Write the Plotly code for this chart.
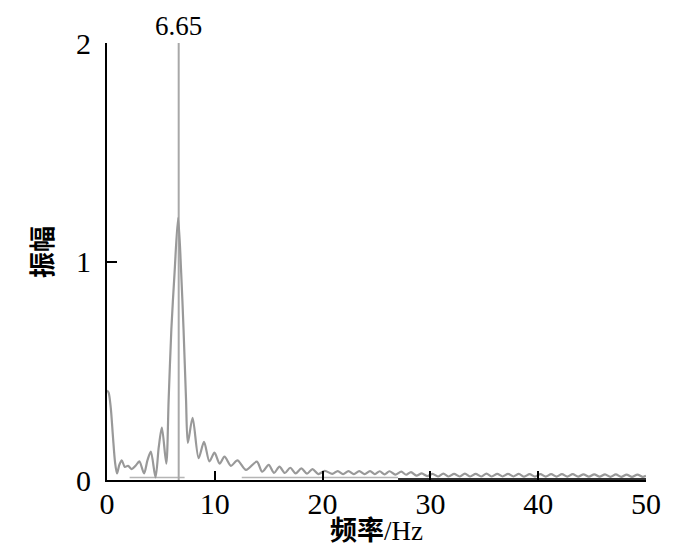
import plotly.graph_objects as go

# Spectrum curve (frequency in Hz, amplitude)
freq_hz = [0.0, 0.15, 0.35, 0.55, 0.75, 0.93, 1.15, 1.37, 1.65, 1.95, 2.3, 2.65, 3.0, 3.44, 3.75,
           4.07, 4.5, 4.8, 5.09, 5.5, 5.72, 5.97, 6.27, 6.6, 6.88, 7.1, 7.33, 7.5, 7.94, 8.5,
           9.0, 9.5, 9.97, 10.45, 10.9, 11.5, 12.1, 12.9, 13.9, 14.4, 15.0, 15.5, 16.0, 16.5,
           17.0, 17.5, 18.03, 18.55, 19.06, 19.6, 20.2, 20.9, 21.4, 21.9, 22.4, 22.9, 23.4, 23.9,
           24.4, 24.85, 25.3, 25.75, 26.2, 26.75, 27.3, 27.75, 28.2, 28.7, 29.2, 29.7,
           30.2, 30.7, 31.2, 31.7, 32.2, 32.7, 33.2, 33.7, 34.2, 34.7, 35.2, 35.7, 36.2, 36.7,
           37.2, 37.7, 38.2, 38.7, 39.2, 39.7, 40.2, 40.7, 41.2, 41.7, 42.2, 42.7, 43.2, 43.7,
           44.2, 44.7, 45.2, 45.7, 46.2, 46.7, 47.2, 47.7, 48.2, 48.7, 49.2, 49.7, 50.0]
amplitude = [0.41, 0.40, 0.33, 0.20, 0.08, 0.03, 0.07, 0.09, 0.06, 0.065, 0.05, 0.065, 0.085, 0.03, 0.09,
             0.13, 0.012, 0.15, 0.24, 0.075, 0.37, 0.69, 0.95, 1.2, 0.95, 0.69, 0.37, 0.17, 0.285, 0.10,
             0.175, 0.085, 0.125, 0.075, 0.107, 0.065, 0.09, 0.046, 0.084, 0.038, 0.069, 0.033, 0.061, 0.032,
             0.056, 0.030, 0.053, 0.029, 0.050, 0.027, 0.042, 0.028, 0.041, 0.027, 0.041, 0.027, 0.041, 0.027,
             0.041, 0.027, 0.040, 0.026, 0.040, 0.025, 0.038, 0.024, 0.036, 0.020, 0.030, 0.018,
             0.028, 0.016, 0.029, 0.016, 0.028, 0.016, 0.029, 0.016, 0.028, 0.016, 0.029, 0.016, 0.028, 0.016,
             0.028, 0.016, 0.028, 0.015, 0.027, 0.015, 0.027, 0.015, 0.027, 0.015, 0.027, 0.015, 0.027, 0.015,
             0.026, 0.015, 0.026, 0.015, 0.026, 0.014, 0.026, 0.014, 0.025, 0.014, 0.025, 0.014, 0.020]

# Marked dominant frequency
peak_freq = 6.65
peak_stem = [0.0, 2.0]
peak_label = "6.65"

# Faint baseline segments visible along the axis
light_seg_x = [2.1, 7.2, None, 12.5, 27.0]
light_seg_y = [0.012, 0.012, None, 0.012, 0.012]
dark_seg_x = [27.0, 50.0]
dark_seg_y = [0.004, 0.004]

x_ticks = [0, 10, 20, 30, 40, 50]
y_ticks = [0, 1, 2]
x_title_cn = "频率"
x_title_unit = "/Hz"
y_title = "振幅"

LATIN = "Liberation Serif, Noto Sans CJK SC, serif"

fig = go.Figure()
fig.add_trace(go.Scatter(x=light_seg_x, y=light_seg_y, mode="lines",
                         line=dict(color="#b5b5b5", width=1.5), hoverinfo="skip"))
fig.add_trace(go.Scatter(x=dark_seg_x, y=dark_seg_y, mode="lines",
                         line=dict(color="#333333", width=2.5), hoverinfo="skip"))
fig.add_trace(go.Scatter(x=[peak_freq, peak_freq], y=peak_stem, mode="lines",
                         line=dict(color="#a8a8a8", width=2), cliponaxis=False))
fig.add_trace(go.Scatter(x=freq_hz, y=amplitude, mode="lines",
                         line=dict(color="#999999", width=2.2, shape="spline", smoothing=0.8),
                         cliponaxis=False))

fig.add_annotation(x=peak_freq, y=2.0, text=peak_label, showarrow=False,
                   yanchor="bottom", yshift=0, font=dict(family=LATIN, size=27, color="black"))
# axis titles placed as annotations for exact positioning
fig.add_annotation(xref="paper", yref="paper", x=0.5, y=0,
                   text=f"<b>{x_title_cn}</b>{x_title_unit}", showarrow=False,
                   xanchor="center", yanchor="middle", yshift=-51,
                   font=dict(family=LATIN, size=27, color="black"))
fig.add_annotation(xref="paper", yref="paper", x=0, y=0.522, text=y_title, showarrow=False,
                   textangle=-90, xanchor="center", yanchor="middle", xshift=-63,
                   font=dict(family=LATIN, size=26, color="black", weight="bold"))

# the page body has an 8px margin, so the figure is shrunk and shifted to compensate
fig.update_layout(
    width=692, height=549,
    margin=dict(l=99, r=54, t=35, b=77),
    paper_bgcolor="white", plot_bgcolor="white",
    showlegend=False,
    font=dict(family=LATIN, color="black"),
)
fig.update_xaxes(range=[0, 50], tickvals=x_ticks, ticks="inside", ticklen=9, tickwidth=2,
                 tickcolor="black", showline=True, linecolor="black", linewidth=2,
                 showgrid=False, zeroline=False, tickfont=dict(family=LATIN, size=30),
                 ticklabelstandoff=-4, automargin=False)
fig.update_yaxes(range=[0, 2], tickvals=y_ticks, ticks="inside", ticklen=10, tickwidth=2,
                 tickcolor="black", showline=True, linecolor="black", linewidth=2,
                 showgrid=False, zeroline=False, tickfont=dict(family=LATIN, size=30),
                 ticklabelstandoff=8, automargin=False)

fig.write_html("out.html")
